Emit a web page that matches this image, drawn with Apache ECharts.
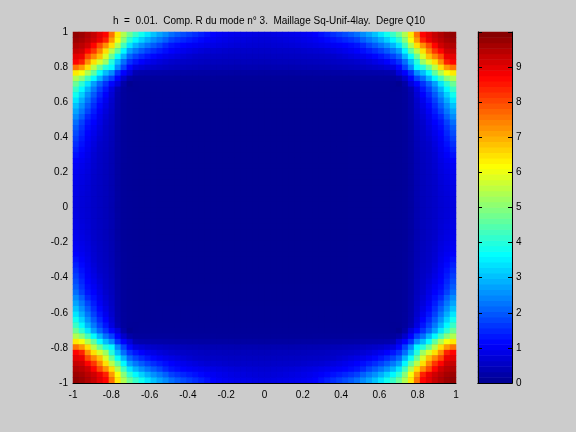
<!DOCTYPE html>
<html><head><meta charset="utf-8">
<style>html,body{margin:0;padding:0;background:#ccc}#c{width:576px;height:432px}</style>
<script src="https://cdn.jsdelivr.net/npm/echarts@6/dist/echarts.min.js"></script>
</head><body><div id="c"></div>
<script>
var titleText = "h  =  0.01.  Comp. R du mode n° 3.  Maillage Sq-Unif-4lay.  Degre Q10";
// values read from the top-left quadrant (upper triangle; the field is symmetric across the diagonal and both mid-lines)
var quadrant = [
[9.8,9.7,9.5,9.3,9.0,8.7,7.6,6.4,5.4,4.7,4.2,3.8,3.4,3.05,2.75,2.5,2.2,2.0,1.85,1.7,1.55,1.4,1.25,1.1,1.02,.97,.93,.9,.87,.85,.82,.8],
[9.6,9.4,9.2,8.9,8.4,7.2,6.1,5.0,4.1,3.6,3.2,2.85,2.55,2.3,2.05,1.75,1.6,1.48,1.36,1.26,1.16,1.06,.98,.92,.88,.84,.81,.78,.75,.73,.72],
[9.2,8.7,8.0,7.3,6.5,5.4,4.3,3.4,2.9,2.55,2.25,2.0,1.78,1.5,1.3,1.2,1.12,1.05,1.0,.95,.9,.85,.81,.78,.75,.72,.7,.68,.67,.66],
[8.2,7.4,6.5,5.5,4.6,3.6,2.7,2.3,2.0,1.75,1.55,1.38,1.23,1.1,1.0,.92,.85,.79,.73,.68,.66,.64,.62,.6,.59,.58,.58,.57,.57],
[6.8,5.8,4.7,3.7,2.9,2.1,1.75,1.5,1.3,1.15,1.02,.92,.85,.78,.71,.65,.6,.58,.56,.55,.54,.53,.52,.52,.51,.5,.5,.5],
[5.2,4.0,3.0,2.2,1.6,1.3,1.1,.95,.85,.75,.68,.62,.58,.56,.54,.52,.5,.48,.47,.46,.45,.45,.44,.44,.44,.43,.43],
[3.6,2.5,1.75,1.15,.8,.7,.62,.58,.54,.5,.47,.45,.43,.41,.4,.38,.37,.36,.36,.35,.35,.34,.34,.34,.34,.33],
[1.6,1.1,.75,.35,.3,.28,.27,.26,.25,.24,.23,.23,.22,.22,.21,.21,.2,.2,.2,.2,.19,.19,.19,.19,.18],
[.6,.25,.15,.14,.14,.13,.13,.13,.13,.12,.12,.12,.12,.12,.12,.12,.11,.11,.11,.11,.11,.11,.11,.11],
[.02,.08,.09,.09,.09,.09,.09,.09,.09,.09,.09,.09,.09,.09,.09,.09,.09,.09,.09,.09,.09,.09,.09],
[.07,.08,.08,.08,.08,.08,.08,.08,.08,.08,.08,.08,.08,.08,.08,.08,.08,.08,.08,.08,.08,.08],
[.07,.07,.07,.07,.07,.07,.07,.07,.07,.07,.07,.07,.07,.07,.07,.07,.07,.07,.07,.07,.07],
[.07,.07,.07,.07,.07,.07,.07,.07,.07,.07,.07,.07,.07,.07,.07,.07,.07,.07,.07,.07],
[.07,.07,.07,.07,.07,.07,.07,.07,.07,.07,.07,.07,.07,.07,.07,.07,.07,.07,.07],
[.06,.06,.06,.06,.06,.06,.06,.06,.06,.06,.06,.06,.06,.06,.06,.06,.06,.06],
[.06,.06,.06,.06,.06,.06,.06,.06,.06,.06,.06,.06,.06,.06,.06,.06,.06],
[.06,.06,.06,.06,.06,.06,.06,.06,.06,.06,.06,.06,.06,.06,.06,.06],
[.06,.06,.06,.06,.06,.06,.06,.06,.06,.06,.06,.06,.06,.06,.06],
[.05,.05,.05,.05,.05,.05,.05,.05,.05,.05,.05,.05,.05,.05],
[.05,.05,.05,.05,.05,.05,.05,.05,.05,.05,.05,.05,.05],
[.05,.05,.05,.05,.05,.05,.05,.05,.05,.05,.05,.05],
[.05,.05,.05,.05,.05,.05,.05,.05,.05,.05,.05],
[.05,.05,.05,.05,.05,.05,.05,.05,.05,.05],
[.05,.05,.05,.05,.05,.05,.05,.05,.05],
[.05,.05,.05,.05,.05,.05,.05,.05],
[.05,.05,.05,.05,.05,.05,.05],
[.05,.05,.05,.05,.05,.05],
[.05,.05,.05,.05,.05],
[.05,.05,.05,.05],
[.05,.05,.05],
[.05,.05],
[.05]
];
var colorbarLevels = [0.08,0.23,0.39,0.55,0.70,0.86,1.02,1.17,1.33,1.48,1.64,1.80,1.95,2.11,2.27,2.42,2.58,2.73,2.89,3.05,3.20,3.36,3.52,3.67,3.83,3.98,4.14,4.30,4.45,4.61,4.77,4.92,5.08,5.23,5.39,5.55,5.70,5.86,6.02,6.17,6.33,6.48,6.64,6.80,6.95,7.11,7.27,7.42,7.58,7.73,7.89,8.05,8.20,8.36,8.52,8.67,8.83,8.98,9.14,9.30,9.45,9.61,9.77,9.92];

function jet(i){ // i = 1..64 MATLAB jet map
  function c(v){return Math.round(255*Math.max(0,Math.min(1,v)));}
  var t=4*i/64;
  return 'rgb('+c(Math.min(t-1.5,-t+4.5))+','+c(Math.min(t-0.5,-t+3.5))+','+c(Math.min(t+0.5,-t+2.5))+')';
}
var colors=[];for(var k=1;k<=64;k++)colors.push(jet(k));

function at(r,c){ return r<=c ? quadrant[r][c-r] : quadrant[c][r-c]; }
var n=quadrant.length, N=2*n, cells=[], idx=[];
for(var i=0;i<N;i++)idx.push(i);
for(var r=0;r<N;r++)for(var q=0;q<N;q++){
  var ri=r<n?r:N-1-r, ci=q<n?q:N-1-q;
  cells.push([q,N-1-r,at(ri,ci)]);
}
var barCells=colorbarLevels.map(function(v,i){return [0,i,v];});
var font={fontFamily:'Liberation Sans',fontSize:10,color:'#000'};
function plotAxis(extra){
  var o={type:'value',min:-1,max:1,interval:0.2,z:10,silent:true,
    axisLine:{show:false,onZero:false},
    axisTick:{show:false},
    splitLine:{show:false},
    axisLabel:Object.assign({show:true,margin:5,formatter:function(v){return String(+v.toFixed(1));}},font)};
  return Object.assign(o,extra);
}
function barEdge(pos,labelled){
  return {type:'value',min:0,max:10,interval:1,gridIndex:1,position:pos,z:10,
     axisLine:{show:true,onZero:false,lineStyle:{color:'#000'}},
     axisTick:{show:true,inside:true,length:4,lineStyle:{color:'#000'}},
     splitLine:{show:false},
     axisLabel:labelled?Object.assign({margin:4,formatter:function(v){return v===10?'':String(v);}},font):{show:false}};
}
var chart=echarts.init(document.getElementById('c'),null,{renderer:'canvas'});
chart.setOption({
  animation:false,backgroundColor:'#cccccc',
  title:{text:titleText,left:108,top:11,textStyle:{fontFamily:'Liberation Sans',fontSize:10,fontWeight:'normal',color:'#000'}},
  grid:[{left:73,top:32,width:383,height:351,show:true,borderWidth:0,backgroundColor:'#000090'},{left:478,top:32,width:34,height:351}],
  xAxis:[
    {type:'category',data:idx,gridIndex:0,show:false},
    plotAxis({gridIndex:0,position:'bottom',axisLine:{show:true,onZero:false,lineStyle:{color:'#000',width:1}},axisLabel:Object.assign({show:true,margin:7,formatter:function(v){return String(+v.toFixed(1));}},font)}),
    {type:'category',data:[0],gridIndex:1,axisTick:{show:false},axisLabel:{show:false},z:10,axisLine:{show:true,lineStyle:{color:'#000'}}},
    {type:'category',data:[0],gridIndex:1,position:'top',axisTick:{show:false},axisLabel:{show:false},z:10,axisLine:{show:true,lineStyle:{color:'#000'}}}
  ],
  yAxis:[
    {type:'category',data:idx,gridIndex:0,show:false},
    plotAxis({gridIndex:0,position:'left'}),
    {type:'category',data:colorbarLevels.map(function(v,i){return i;}),gridIndex:1,show:false},
    barEdge('right',true),
    barEdge('left',false)
  ],
  visualMap:{type:'continuous',show:false,min:0,max:10,seriesIndex:[0,1],inRange:{color:colors}},
  series:[
    {type:'heatmap',xAxisIndex:0,yAxisIndex:0,data:cells,itemStyle:{borderWidth:0},progressive:0},
    {type:'heatmap',xAxisIndex:2,yAxisIndex:2,data:barCells,itemStyle:{borderWidth:0},progressive:0}
  ]
});
</script></body></html>
